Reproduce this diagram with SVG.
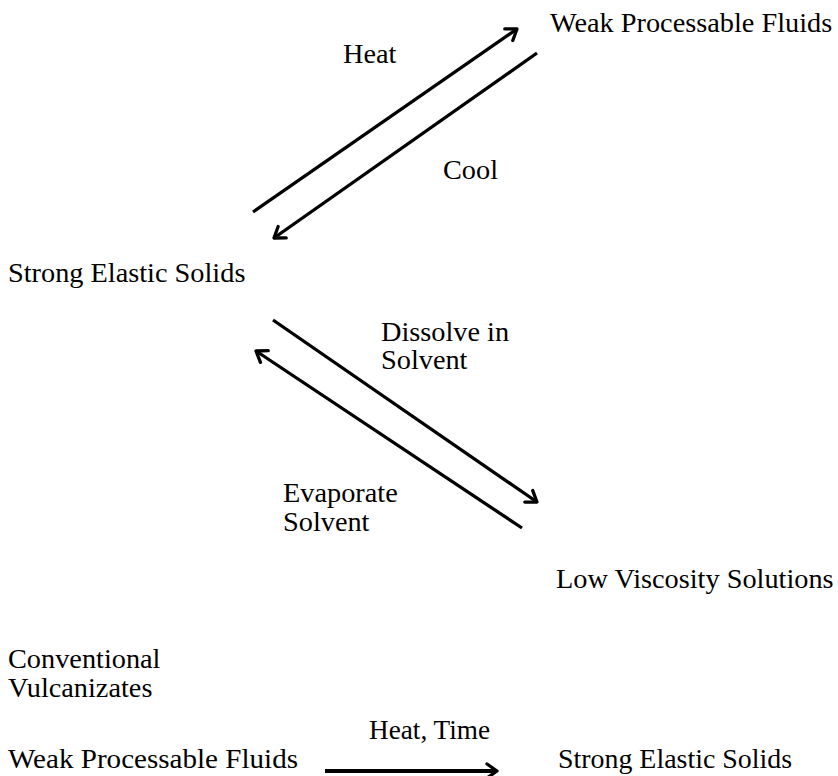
<svg xmlns="http://www.w3.org/2000/svg" width="838" height="776" viewBox="0 0 838 776">
<defs>
<style>
text{font-family:'Liberation Serif','Times New Roman','DejaVu Serif',serif;font-size:28.3px;fill:#000}
.c line{stroke:#000;stroke-width:3.3;fill:none}
.h{stroke:#000;stroke-width:3.3;fill:none;stroke-linecap:round;stroke-linejoin:round}
</style>
<marker id="ah" viewBox="0 0 12 12" refX="10" refY="6" markerWidth="12" markerHeight="12" markerUnits="userSpaceOnUse" orient="auto" overflow="visible">
<path d="M0,-1 L10,6 L0,13" class="h"/>
</marker>
</defs>
<rect width="838" height="776" fill="#fff"/>
<g id="n1"><text x="550" y="32">Weak Processable Fluids</text></g>
<g id="n2"><text x="8" y="282">Strong Elastic Solids</text></g>
<g id="n3"><text x="556" y="588">Low Viscosity Solutions</text></g>
<g id="n4"><text x="8" y="668">Conventional</text><text x="8" y="697">Vulcanizates</text></g>
<g id="n5"><text x="8" y="768" textLength="290" lengthAdjust="spacingAndGlyphs">Weak Processable Fluids</text></g>
<g id="n6"><text x="558" y="768" textLength="234" lengthAdjust="spacingAndGlyphs">Strong Elastic Solids</text></g>
<g id="labels">
<text x="343" y="63">Heat</text>
<text x="443" y="179">Cool</text>
<text x="381" y="341">Dissolve in</text>
<text x="381" y="369">Solvent</text>
<text x="283" y="502">Evaporate</text>
<text x="283" y="531">Solvent</text>
<text x="369" y="739" textLength="121" lengthAdjust="spacingAndGlyphs">Heat, Time</text>
</g>
<g class="c" id="connectors">
<line x1="253" y1="212" x2="517" y2="29" marker-end="url(#ah)"/>
<line x1="537" y1="53" x2="274" y2="238" marker-end="url(#ah)"/>
<line x1="273" y1="320" x2="537" y2="502" marker-end="url(#ah)"/>
<line x1="522" y1="528" x2="256" y2="351" marker-end="url(#ah)"/>
<line x1="325" y1="771" x2="497" y2="771" marker-end="url(#ah)" style="stroke-width:4"/>
</g>
</svg>
